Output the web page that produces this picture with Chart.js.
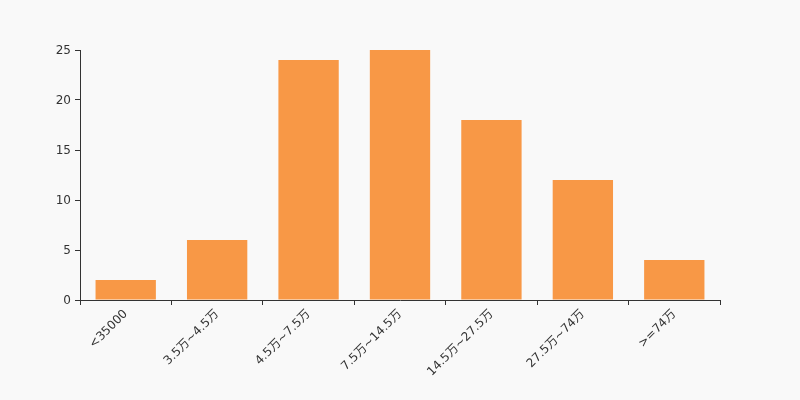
<!DOCTYPE html>
<html>
<head>
<meta charset="utf-8">
<script src="https://cdn.jsdelivr.net/npm/chart.js@4/dist/chart.umd.min.js"></script>
<style>
  html, body { margin: 0; padding: 0; background: #f9f9f9; }
  #wrap { width: 800px; height: 400px; }
</style>
</head>
<body>
<div id="wrap"><canvas id="myChart" width="800" height="400"></canvas></div>
<script>
let categories = ['<35000', '3.5万~4.5万', '4.5万~7.5万', '7.5万~14.5万', '14.5万~27.5万', '27.5万~74万', '>=74万']
let counts = [2, 6, 24, 25, 18, 12, 4]
let yTicks = [0, 5, 10, 15, 20, 25]

let font = { family: '"DejaVu Sans", "Noto Sans CJK SC", sans-serif', size: 12 }

const bgPlugin = {
  id: 'bg',
  beforeDraw(chart) {
    let c = chart.ctx
    c.save()
    c.fillStyle = '#f9f9f9'
    c.fillRect(0, 0, chart.width, chart.height)
    c.restore()
  }
}

const data = {
  labels: categories,
  datasets: [{
    data: counts,
    backgroundColor: '#f89846',
    barPercentage: 0.66,
    categoryPercentage: 1
  }]
}

const config = {
  type: 'bar',
  data,
  options: {
    responsive: false,
    animation: false,
    layout: { padding: { top: 50, right: 80, left: 0, bottom: 0 } },
    plugins: { legend: { display: false }, tooltip: { enabled: false } },
    scales: {
      x: {
        grid: { display: true, drawOnChartArea: false, tickLength: 5, color: '#333', offset: true },
        border: { color: '#333', width: 1 },
        ticks: { color: '#333', font, maxRotation: 45, minRotation: 45, padding: 2, autoSkip: false },
        afterFit(s) { s.height = 100 }
      },
      y: {
        min: 0,
        max: 25,
        afterBuildTicks(s) { s.ticks = yTicks.map(v => ({ value: v })) },
        grid: { display: true, drawOnChartArea: false, tickLength: 5, color: '#333' },
        border: { color: '#333', width: 1 },
        ticks: { color: '#333', font, padding: 4, labelOffset: 1 },
        afterFit(s) { s.width = 80 }
      }
    }
  },
  plugins: [bgPlugin]
}

var myChart = new Chart(document.getElementById('myChart'), config)
</script>
</body>
</html>
